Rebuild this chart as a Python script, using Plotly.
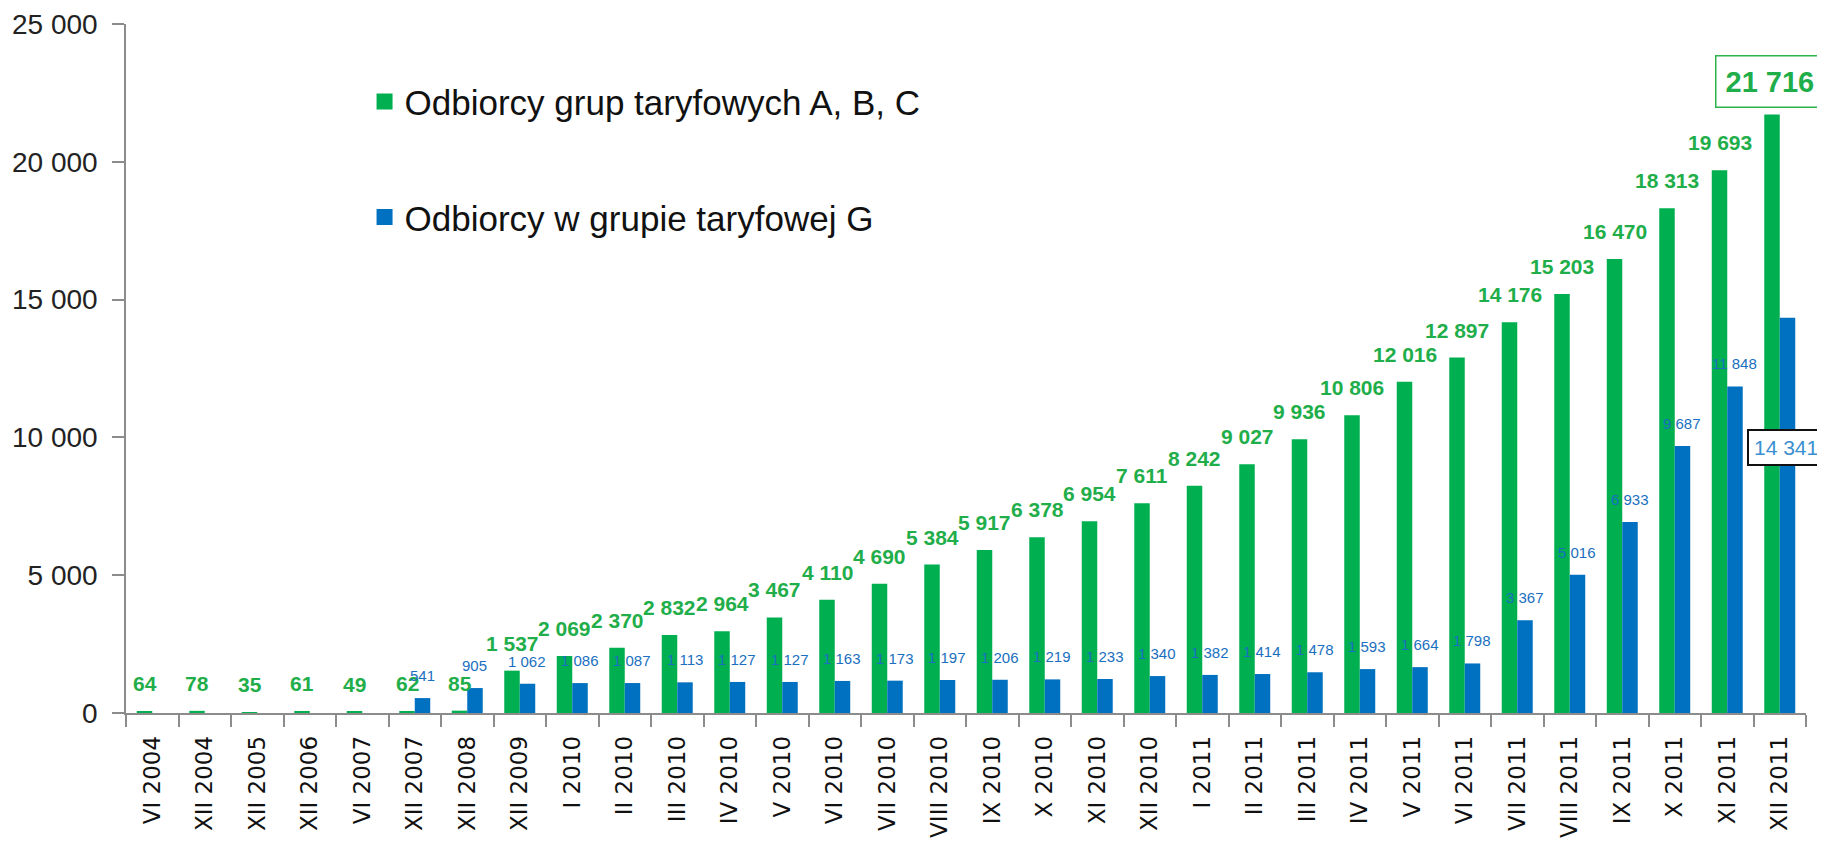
import plotly.graph_objects as go

categories = ["VI 2004", "XII 2004", "XII 2005", "XII 2006", "VI 2007", "XII 2007", "XII 2008",
              "XII 2009", "I 2010", "II 2010", "III 2010", "IV 2010", "V 2010", "VI 2010",
              "VII 2010", "VIII 2010", "IX 2010", "X 2010", "XI 2010", "XII 2010",
              "I 2011", "II 2011", "III 2011", "IV 2011", "V 2011", "VI 2011", "VII 2011",
              "VIII 2011", "IX 2011", "X 2011", "XI 2011", "XII 2011"]

green_name = "Odbiorcy grup taryfowych A, B, C"
green_values = [64, 78, 35, 61, 49, 62, 85, 1537, 2069, 2370, 2832, 2964, 3467, 4110, 4690,
                5384, 5917, 6378, 6954, 7611, 8242, 9027, 9936, 10806, 12016, 12897, 14176,
                15203, 16470, 18313, 19693, 21716]

blue_name = "Odbiorcy w grupie taryfowej G"
blue_values = [None, None, None, None, None, 541, 905, 1062, 1086, 1087, 1113, 1127, 1127, 1163,
               1173, 1197, 1206, 1219, 1233, 1340, 1382, 1414, 1478, 1593, 1664, 1798, 3367,
               5016, 6933, 9687, 11848, 14341]

y_ticks = [0, 5000, 10000, 15000, 20000, 25000]

GREEN = "#00B050"
BLUE = "#0070C0"
GREEN_TXT = "#1FAE4A"
BLUE_TXT = "#1A6FC0"


def fmt(v):
    return f"{v:,}".replace(",", " ")


W, H = 1817, 836          # page body has an 8px margin
ML, MR, MT, MB = 118, 19, 16, 131
BARGAP = 0.41
CAT_PX = (W - ML - MR) / len(categories)
HALF = CAT_PX * (1 - BARGAP) / 4

fig = go.Figure()
fig.add_trace(go.Bar(x=categories, y=green_values, name=green_name, marker_color=GREEN,
                     marker_line_width=0, showlegend=False))
fig.add_trace(go.Bar(x=categories, y=blue_values, name=blue_name, marker_color=BLUE,
                     marker_line_width=0, showlegend=False))

# legend-only entries (square markers)
fig.add_trace(go.Scatter(x=[None], y=[None], mode="markers", name=green_name, legendgroup="g",
                         marker=dict(symbol="square", size=20, color=GREEN)))
fig.add_trace(go.Scatter(x=[None], y=[None], mode="markers", name=blue_name, legendgroup="b",
                         marker=dict(symbol="square", size=20, color=BLUE)))

annotations = []
last = len(categories) - 1
for i, (c, g, b) in enumerate(zip(categories, green_values, blue_values)):
    if i == last:
        continue
    annotations.append(dict(x=c, y=g, xref="x", yref="y", text=fmt(g), showarrow=False,
                            xanchor="center", yanchor="bottom", xshift=-HALF, yshift=14,
                            font=dict(family="Liberation Sans", size=21, color=GREEN_TXT,
                                      weight="bold")))
    if b is not None:
        annotations.append(dict(x=c, y=b, xref="x", yref="y", text=fmt(b), showarrow=False,
                                xanchor="center", yanchor="bottom", xshift=HALF, yshift=12,
                                font=dict(family="Liberation Sans", size=15, color=BLUE_TXT)))

# highlighted last values
annotations.append(dict(x=categories[last], y=green_values[last], xref="x", yref="y",
                        text=fmt(green_values[last]), showarrow=False, xanchor="center",
                        yanchor="bottom", xshift=-10, yshift=7,
                        font=dict(family="Liberation Sans", size=29, color=GREEN_TXT, weight="bold"),
                        bordercolor="#2DB34A", borderwidth=1.5, borderpad=9, bgcolor="white"))
annotations.append(dict(x=categories[last], y=blue_values[last], xref="x", yref="y",
                        text=fmt(blue_values[last]), showarrow=False, xanchor="center",
                        yanchor="middle", xshift=HALF - 1, yshift=-130,
                        font=dict(family="Liberation Sans", size=21, color="#3A8FD0"),
                        bordercolor="#111111", borderwidth=2, borderpad=5, bgcolor="white"))

fig.update_layout(
    width=W, height=H, autosize=False,
    margin=dict(l=ML, r=MR, t=MT, b=MB, autoexpand=False),
    paper_bgcolor="white", plot_bgcolor="white",
    barmode="group", bargap=BARGAP, bargroupgap=0,
    font=dict(family="Liberation Sans", color="#222222"),
    annotations=annotations,
    legend=dict(x=0.142, y=0.93, xanchor="left", yanchor="top", orientation="v",
                font=dict(family="Liberation Sans", size=35, color="#111111"),
                bgcolor="rgba(0,0,0,0)", tracegroupgap=67, itemsizing="trace"),
    showlegend=True,
)

fig.update_xaxes(type="category", categoryorder="array", categoryarray=categories,
                 range=[-0.5, len(categories) - 0.5], autorange=False,
                 showline=True, linecolor="#8C8C8C", linewidth=1.5,
                 ticks="outside", tickson="boundaries", ticklen=12, tickcolor="#8C8C8C",
                 tickwidth=1.5, tickangle=-90, showgrid=False, zeroline=False,
                 tickfont=dict(family="DejaVu Sans", size=23, color="#111111"),
                 ticklabelstandoff=12, automargin=False)
fig.update_yaxes(range=[0, 25000], autorange=False, tickvals=y_ticks,
                 ticktext=[fmt(v) for v in y_ticks],
                 showline=True, linecolor="#8C8C8C", linewidth=1.5,
                 ticks="outside", ticklen=12, tickcolor="#8C8C8C", tickwidth=1.5,
                 showgrid=False, zeroline=False,
                 tickfont=dict(family="Liberation Sans", size=28, color="#222222"),
                 ticklabelstandoff=9, automargin=False)

fig.write_html("out.html")
